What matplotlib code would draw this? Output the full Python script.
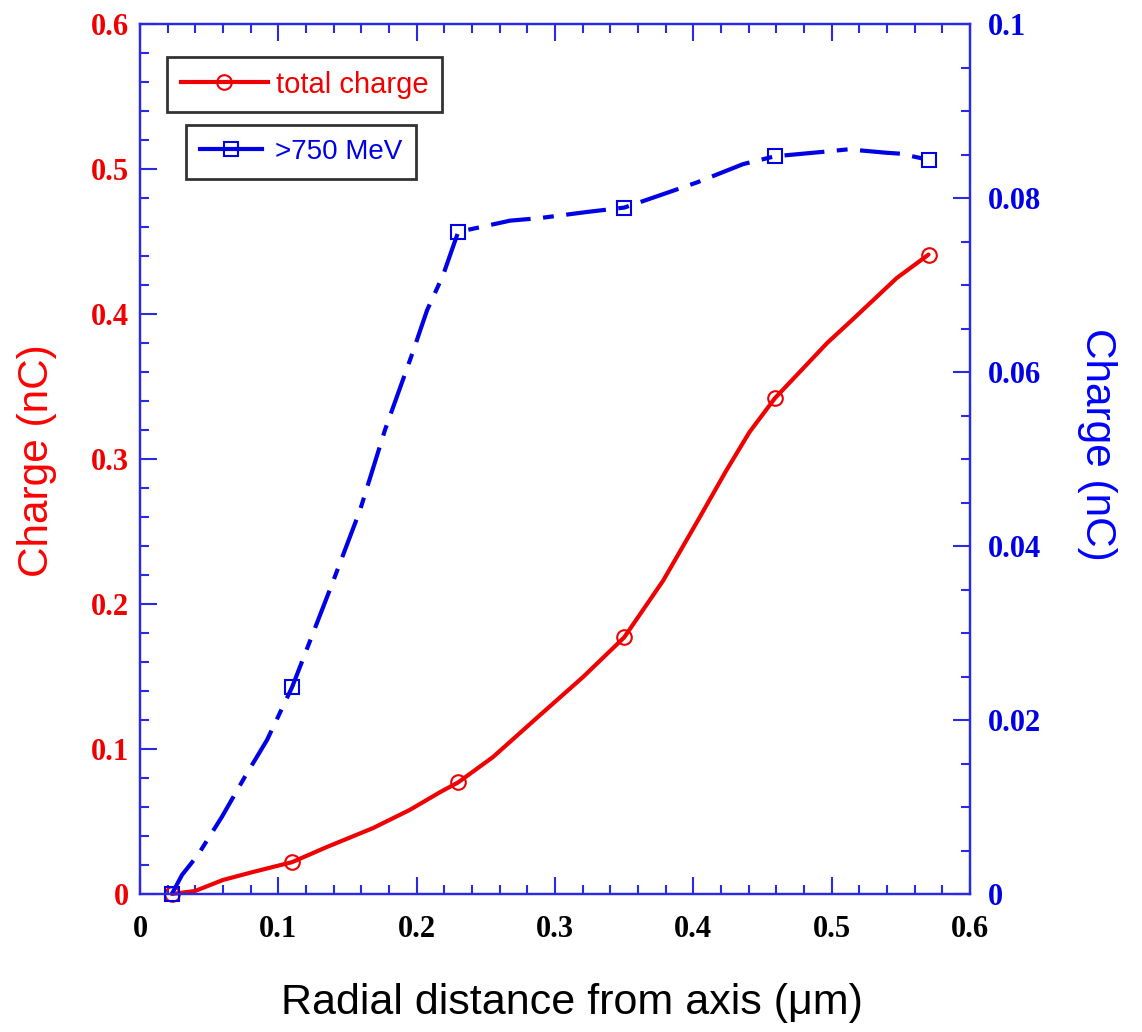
import numpy as np
import matplotlib.pyplot as plt
from matplotlib.lines import Line2D
from matplotlib.ticker import MultipleLocator, FuncFormatter

# tick labels in bold serif, text labels set to sans below
plt.rcParams['font.family'] = 'serif'
plt.rcParams['font.serif'] = ['Liberation Serif', 'DejaVu Serif']
plt.rcParams['font.weight'] = 'bold'

RED = '#f00000'
BLUE = '#0000e6'
SPINE = '#2a2ae6'
SANS = ['Liberation Sans', 'DejaVu Sans']

# simulated points (markers)
r_markers = [0.023, 0.11, 0.23, 0.35, 0.459, 0.57]
total_markers = [0.0, 0.022, 0.077, 0.177, 0.342, 0.441]   # left axis, nC
high_markers = [0.0, 0.0238, 0.0761, 0.0789, 0.0848, 0.0844]  # right axis, nC

# smoothed curves
r_total_curve = [0.023, 0.0398, 0.060, 0.0817, 0.11, 0.135, 0.1685, 0.195, 0.217,
                 0.23, 0.2552, 0.2889, 0.3203, 0.35, 0.3782, 0.4047, 0.4237, 0.4406,
                 0.459, 0.4967, 0.516, 0.547, 0.57]
total_curve = [0.0, 0.0021, 0.0097, 0.0152, 0.022, 0.0324, 0.0455, 0.058, 0.0703,
               0.077, 0.0945, 0.1232, 0.1497, 0.177, 0.2162, 0.26, 0.2919, 0.3186,
               0.342, 0.380, 0.397, 0.4248, 0.441]

r_high_curve = [0.023, 0.0304, 0.0419, 0.0593, 0.0759, 0.0918, 0.11, 0.139, 0.159,
                0.177, 0.197, 0.2075, 0.219, 0.23, 0.2675, 0.2892, 0.3232, 0.35,
                0.381, 0.4027, 0.436, 0.459, 0.4931, 0.512, 0.540, 0.5495, 0.57]
high_curve = [0.0, 0.0022, 0.0045, 0.0089, 0.0135, 0.0177, 0.0238, 0.0357, 0.0441,
              0.0533, 0.0622, 0.0671, 0.0711, 0.0761, 0.0774, 0.0777, 0.0784, 0.0789,
              0.0806, 0.0818, 0.0839, 0.0848, 0.0853, 0.0856, 0.0852, 0.0851, 0.0844]

fig = plt.figure(figsize=(11.42, 10.32), dpi=100)
ax = fig.add_axes([0.1226, 0.1337, 0.7268, 0.843])
ax2 = ax.twinx()

dash = (0, (9.6, 3.0, 2.6, 3.0))

ax.plot(r_total_curve, total_curve, color=RED, lw=3, solid_capstyle='round',
        solid_joinstyle='round', clip_on=False)
ax.plot(r_markers, total_markers, 'o', mfc='none', mec=RED, ms=10.5, mew=1.5, clip_on=False)
ax2.plot(r_high_curve, high_curve, color=BLUE, lw=3, ls=dash, clip_on=False)
ax2.plot(r_markers, high_markers, 's', mfc='none', mec=BLUE, ms=10, mew=1.5, clip_on=False)

ax.set_xlim(0, 0.6)
ax.set_ylim(0, 0.6)
ax2.set_ylim(0, 0.1)

fmt = FuncFormatter(lambda v, p: f'{v:g}')
ax.xaxis.set_major_locator(MultipleLocator(0.1))
ax.xaxis.set_minor_locator(MultipleLocator(0.02))
ax.yaxis.set_major_locator(MultipleLocator(0.1))
ax.yaxis.set_minor_locator(MultipleLocator(0.02))
ax2.yaxis.set_major_locator(MultipleLocator(0.02))
ax2.yaxis.set_minor_locator(MultipleLocator(0.005))
ax.xaxis.set_major_formatter(fmt)
ax.yaxis.set_major_formatter(fmt)
ax2.yaxis.set_major_formatter(fmt)

ax.tick_params(axis='x', which='both', direction='in', top=True, bottom=True,
               color=SPINE, labelcolor='black', pad=15, labelsize=22)
ax.tick_params(axis='y', which='both', direction='in', left=True, right=False,
               color=SPINE, labelcolor=RED, pad=8, labelsize=22)
ax2.tick_params(axis='y', which='both', direction='in', right=True, left=False,
                color=SPINE, labelcolor=BLUE, pad=13, labelsize=22)
for a in (ax, ax2):
    a.tick_params(which='major', length=12, width=1.5)
    a.tick_params(which='minor', length=6.5, width=1.5)
    for sp in a.spines.values():
        sp.set_color(SPINE)
        sp.set_linewidth(1.6)

ax.set_xlabel('Radial distance from axis (μm)', fontfamily=SANS, fontweight='normal',
              fontsize=31, color='black', va='center')
ax.xaxis.set_label_coords(0.52, -0.125)
ax.set_ylabel('Charge (nC)', fontfamily=SANS, fontweight='normal', fontsize=30.5,
              color='red', va='center')
ax.yaxis.set_label_coords(-0.124, 0.498)
ax2.set_ylabel('Charge (nC)', fontfamily=SANS, fontweight='normal', fontsize=30.5,
               color='blue', rotation=270, va='center', ha='center')
ax2.yaxis.set_label_coords(1.153, 0.517)

# two separate legend boxes
h_total = Line2D([], [], color=RED, lw=3, marker='o', mfc='none', mec=RED, ms=10.5, mew=1.5)
h_high = Line2D([], [], color=BLUE, lw=3, marker='s', mfc='none', mec=BLUE, ms=10, mew=1.5)

leg1 = ax2.legend([h_total], ['total charge'], loc='upper left',
                  bbox_to_anchor=(167 / 1142, 1 - 57 / 1032), bbox_transform=fig.transFigure,
                  borderaxespad=0, fancybox=False, framealpha=1, edgecolor='#333333',
                  borderpad=0.47, handlelength=3.0, handletextpad=0.25,
                  prop={'family': SANS, 'size': 21, 'weight': 'normal'})
leg1.get_frame().set_linewidth(2)
leg1.get_texts()[0].set_color(RED)
ax2.add_artist(leg1)

leg2 = ax2.legend([h_high], ['>750 MeV'], loc='upper left',
                  bbox_to_anchor=(186 / 1142, 1 - 125 / 1032), bbox_transform=fig.transFigure,
                  borderaxespad=0, fancybox=False, framealpha=1, edgecolor='#333333',
                  borderpad=0.5, handlelength=2.25, handletextpad=0.46,
                  prop={'family': SANS, 'size': 20, 'weight': 'normal'})
leg2.get_frame().set_linewidth(2)
leg2.get_texts()[0].set_color(BLUE)

fig.savefig('out.png', dpi=100)
